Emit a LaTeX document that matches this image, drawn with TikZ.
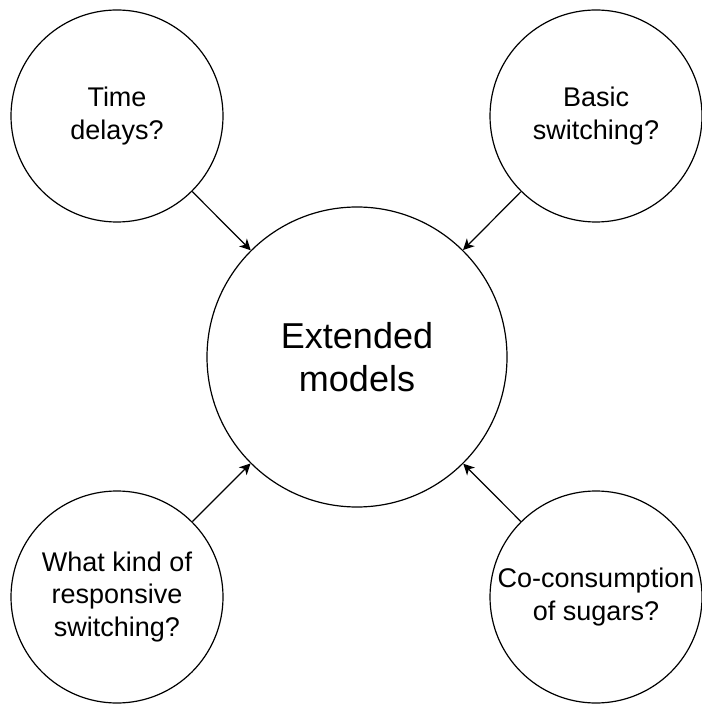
\documentclass[tikz,border=0pt]{standalone}
\usepackage{fontspec}
\setmainfont{Liberation Sans}
\usepackage{tikz}
\usetikzlibrary{arrows.meta,positioning}

\begin{document}
\begin{tikzpicture}[
  x=0.5pt, y=-0.5pt,
  bubble/.style={draw, circle, line width=0.6pt, inner sep=0pt, minimum size=106pt, align=center, font=\fontsize{13.5}{16.2}\selectfont},
  hub/.style={draw, circle, line width=0.6pt, inner sep=0pt, minimum size=150pt, align=center, font=\fontsize{18}{21.6}\selectfont},
  arr/.style={-{Stealth[length=5.5pt, width=5.5pt, inset=1.6pt]}, line width=0.6pt}
]
\useasboundingbox (0,0) rectangle (701,704);
\node[hub] (ext) at (357,357) {Extended\\ models};
\node[bubble] (delay) at (117,116) {Time\\ delays?};
\node[bubble] (basic) at (596,116) {Basic\\ switching?};
\node[bubble] (resp) at (117,597) {What kind of\\ responsive\\ switching?};
\node[bubble] (cocons) at (596,597) {Co-consumption\\ of sugars?};
\draw[arr] (delay) -- (ext);
\draw[arr] (basic) -- (ext);
\draw[arr] (resp) -- (ext);
\draw[arr] (cocons) -- (ext);
\end{tikzpicture}
\end{document}
